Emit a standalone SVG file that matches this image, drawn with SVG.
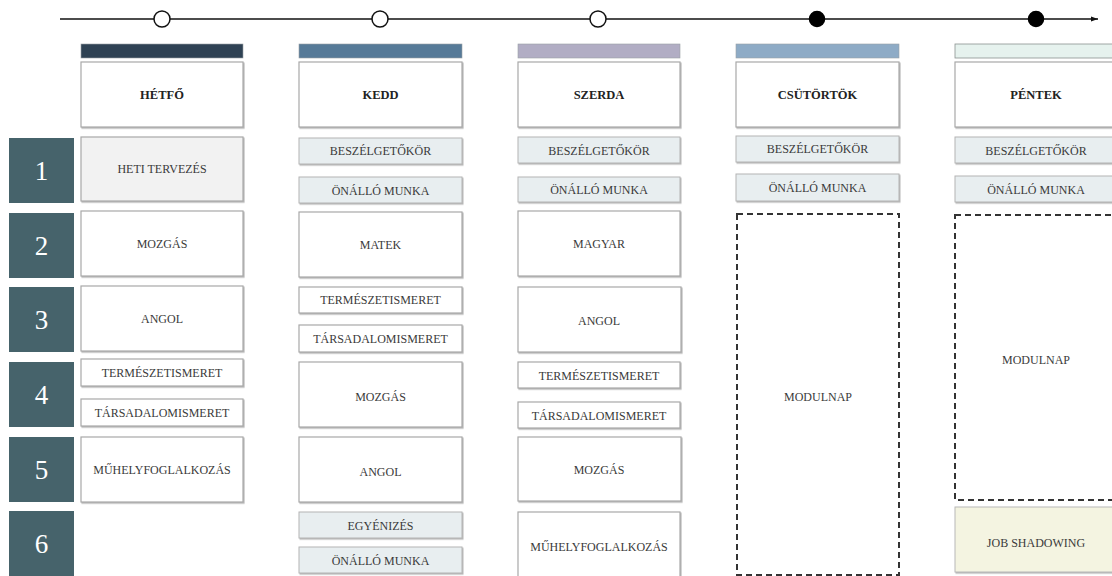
<svg xmlns="http://www.w3.org/2000/svg" width="1112" height="576" viewBox="0 0 1112 576">
<style>
.box{fill:#ffffff;stroke:#a8a8a8;stroke-width:1.2;filter:url(#sh)}
.lt{fill:#e8eef0;stroke:#b4b4b4;stroke-width:1;filter:url(#sh)}
.gr{fill:#f2f2f2;stroke:#a8a8a8;stroke-width:1.2;filter:url(#sh)}
.cr{fill:#f4f4e1;stroke:#b8b8b8;stroke-width:1;filter:url(#sh)}
.dash{fill:#ffffff;stroke:#333333;stroke-width:2;stroke-dasharray:6 4}
.num{fill:#46636b}
.t{font-family:"Liberation Serif","DejaVu Serif",serif;font-size:12px;fill:#3a3a3a;text-anchor:middle}
.h{font-family:"Liberation Serif","DejaVu Serif",serif;font-size:12.5px;font-weight:bold;fill:#222222;text-anchor:middle}
.n{font-family:"Liberation Serif","DejaVu Serif",serif;font-size:27px;fill:#ffffff;text-anchor:middle}
.oc{fill:#ffffff;stroke:#111111;stroke-width:1.5}
.fc{fill:#000000;stroke:#000000;stroke-width:1.5}
</style>
<defs>
<filter id="sh" x="-5%" y="-10%" width="110%" height="130%">
<feDropShadow dx="1" dy="1.2" stdDeviation="0.6" flood-color="#888888" flood-opacity="0.6"/>
</filter>
<marker id="arr" markerWidth="8" markerHeight="8" refX="7" refY="4" orient="auto" markerUnits="userSpaceOnUse">
<path d="M0,1.5 L7,4 L0,6.5 Z" fill="#111111"/>
</marker>
</defs>
<rect width="1112" height="576" fill="#ffffff"/>

<g id="timeline">
<line x1="60" y1="19" x2="1098" y2="19" stroke="#111111" stroke-width="1.5" marker-end="url(#arr)"/>
<circle class="oc" cx="162" cy="19" r="8"/>
<circle class="oc" cx="380" cy="19" r="8"/>
<circle class="oc" cx="598" cy="19" r="8"/>
<circle class="fc" cx="817" cy="19" r="7.5"/>
<circle class="fc" cx="1036" cy="19" r="7.5"/>
</g>

<g id="row-labels">
<g id="row1"><rect class="num" x="9" y="138" width="65" height="65"/><text class="n" x="41.5" y="180">1</text></g>
<g id="row2"><rect class="num" x="9" y="213" width="65" height="65"/><text class="n" x="41.5" y="255">2</text></g>
<g id="row3"><rect class="num" x="9" y="287" width="65" height="65"/><text class="n" x="41.5" y="329">3</text></g>
<g id="row4"><rect class="num" x="9" y="362" width="65" height="65"/><text class="n" x="41.5" y="404">4</text></g>
<g id="row5"><rect class="num" x="9" y="437" width="65" height="65"/><text class="n" x="41.5" y="479">5</text></g>
<g id="row6"><rect class="num" x="9" y="511" width="65" height="66"/><text class="n" x="41.5" y="553">6</text></g>
</g>

<g id="hetfo">
<rect x="81" y="44" width="162" height="14" fill="#2f4254" stroke="#9aa0a6" stroke-width="0.6"/>
<rect class="box" x="81" y="62" width="162" height="65"/><text class="h" x="162" y="99">HÉTFŐ</text>
<rect class="gr" x="81" y="137" width="162" height="64"/><text class="t" x="162" y="173">HETI TERVEZÉS</text>
<rect class="box" x="81" y="211" width="162" height="65"/><text class="t" x="162" y="248">MOZGÁS</text>
<rect class="box" x="81" y="286" width="162" height="65"/><text class="t" x="162" y="323">ANGOL</text>
<rect class="box" x="81" y="359" width="162" height="27"/><text class="t" x="162" y="377">TERMÉSZETISMERET</text>
<rect class="box" x="81" y="399" width="162" height="27"/><text class="t" x="162" y="417">TÁRSADALOMISMERET</text>
<rect class="box" x="81" y="437" width="162" height="65"/><text class="t" x="162" y="474">MŰHELYFOGLALKOZÁS</text>
</g>

<g id="kedd">
<rect x="299" y="44" width="163" height="14" fill="#567a98" stroke="#9aa0a6" stroke-width="0.6"/>
<rect class="box" x="299" y="62" width="163" height="65"/><text class="h" x="380.5" y="99">KEDD</text>
<rect class="lt" x="299" y="138" width="163" height="26"/><text class="t" x="380.5" y="155">BESZÉLGETŐKÖR</text>
<rect class="lt" x="299" y="177" width="163" height="26"/><text class="t" x="380.5" y="195">ÖNÁLLÓ MUNKA</text>
<rect class="box" x="299" y="212" width="163" height="65"/><text class="t" x="380.5" y="249">MATEK</text>
<rect class="box" x="299" y="287" width="163" height="26"/><text class="t" x="380.5" y="304">TERMÉSZETISMERET</text>
<rect class="box" x="299" y="325" width="163" height="27"/><text class="t" x="380.5" y="343">TÁRSADALOMISMERET</text>
<rect class="box" x="299" y="362" width="163" height="65"/><text class="t" x="380.5" y="401">MOZGÁS</text>
<rect class="box" x="299" y="437" width="163" height="65"/><text class="t" x="380.5" y="476">ANGOL</text>
<rect class="lt" x="299" y="512" width="163" height="26"/><text class="t" x="380.5" y="530">EGYÉNIZÉS</text>
<rect class="lt" x="299" y="547" width="163" height="26"/><text class="t" x="380.5" y="565">ÖNÁLLÓ MUNKA</text>
</g>

<g id="szerda">
<rect x="518" y="44" width="162" height="14" fill="#b1adc4" stroke="#9aa0a6" stroke-width="0.6"/>
<rect class="box" x="518" y="62" width="162" height="65"/><text class="h" x="599" y="99">SZERDA</text>
<rect class="lt" x="518" y="137" width="162" height="26"/><text class="t" x="599" y="155">BESZÉLGETŐKÖR</text>
<rect class="lt" x="518" y="177" width="162" height="25"/><text class="t" x="599" y="194">ÖNÁLLÓ MUNKA</text>
<rect class="box" x="518" y="211" width="162" height="65"/><text class="t" x="599" y="248">MAGYAR</text>
<rect class="box" x="518" y="287" width="163" height="65"/><text class="t" x="599" y="325">ANGOL</text>
<rect class="box" x="518" y="362" width="162" height="26"/><text class="t" x="599" y="380">TERMÉSZETISMERET</text>
<rect class="box" x="518" y="402" width="162" height="26"/><text class="t" x="599" y="420">TÁRSADALOMISMERET</text>
<rect class="box" x="518" y="437" width="163" height="64"/><text class="t" x="599" y="474">MOZGÁS</text>
<rect class="box" x="518" y="512" width="162" height="68"/><text class="t" x="599" y="551">MŰHELYFOGLALKOZÁS</text>
</g>

<g id="csutortok">
<rect x="736" y="44" width="163" height="14" fill="#8eabc6" stroke="#9aa0a6" stroke-width="0.6"/>
<rect class="box" x="736" y="62" width="163" height="65"/><text class="h" x="817.5" y="99">CSÜTÖRTÖK</text>
<rect class="lt" x="736" y="136" width="163" height="26"/><text class="t" x="817.5" y="153">BESZÉLGETŐKÖR</text>
<rect class="lt" x="736" y="174" width="163" height="27"/><text class="t" x="817.5" y="192">ÖNÁLLÓ MUNKA</text>
<rect class="dash" x="737" y="214" width="162" height="361"/><text class="t" x="818" y="401">MODULNAP</text>
</g>

<g id="pentek">
<rect x="955" y="44" width="162" height="14" fill="#e6f2ee" stroke="#8a9290" stroke-width="0.8"/>
<rect class="box" x="955" y="62" width="162" height="65"/><text class="h" x="1036" y="99">PÉNTEK</text>
<rect class="lt" x="955" y="137" width="162" height="26"/><text class="t" x="1036" y="155">BESZÉLGETŐKÖR</text>
<rect class="lt" x="955" y="176" width="162" height="26"/><text class="t" x="1036" y="194">ÖNÁLLÓ MUNKA</text>
<rect class="dash" x="955" y="215" width="162" height="285"/><text class="t" x="1036" y="364">MODULNAP</text>
<rect class="cr" x="955" y="507" width="162" height="65"/><text class="t" x="1036" y="547">JOB SHADOWING</text>
</g>
</svg>
